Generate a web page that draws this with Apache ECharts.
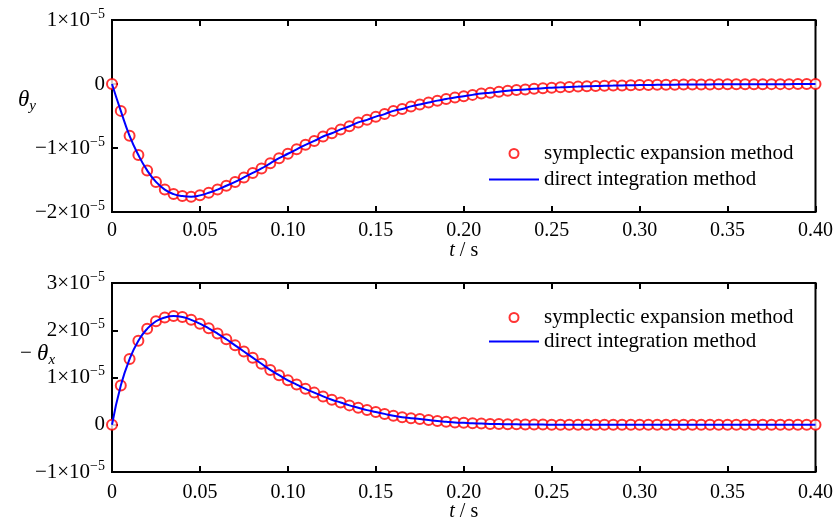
<!DOCTYPE html>
<html>
<head>
<meta charset="utf-8">
<script src="https://cdn.jsdelivr.net/npm/echarts@6/dist/echarts.min.js"></script>
<style>
  html, body { margin: 0; padding: 0; background: #fff; }
  #chart { width: 836px; height: 523px; }
</style>
</head>
<body>
<div id="chart"></div>
<script>
// sample times: 0 .. 0.40 s, every 0.005 s
const tStep = 0.005
const tCount = 81

// theta_y, in units of 1e-5 (upper plot)
const thetaY = [
  0, -0.42, -0.81, -1.11, -1.35, -1.53, -1.65, -1.72, -1.75, -1.76,
  -1.74, -1.70, -1.65, -1.59, -1.53, -1.46, -1.39, -1.32, -1.24, -1.16,
  -1.09, -1.02, -0.95, -0.89, -0.82, -0.77, -0.71, -0.66, -0.60, -0.56,
  -0.51, -0.47, -0.42, -0.39, -0.35, -0.32, -0.29, -0.26, -0.235, -0.21,
  -0.19, -0.17, -0.15, -0.135, -0.12, -0.105, -0.095, -0.085, -0.075, -0.065,
  -0.058, -0.052, -0.046, -0.041, -0.036, -0.032, -0.028, -0.025, -0.022, -0.019,
  -0.017, -0.015, -0.013, -0.011, -0.010, -0.009, -0.008, -0.007, -0.006, -0.005,
  -0.005, -0.004, -0.004, -0.003, -0.003, -0.002, -0.002, -0.002, -0.001, -0.001,
  -0.001
]

// -theta_x, in units of 1e-5 (lower plot)
const minusThetaX = [
  0, 0.83, 1.39, 1.78, 2.03, 2.19, 2.27, 2.30, 2.28, 2.22,
  2.14, 2.04, 1.93, 1.81, 1.68, 1.55, 1.42, 1.29, 1.16, 1.05,
  0.94, 0.85, 0.76, 0.68, 0.60, 0.53, 0.47, 0.41, 0.36, 0.31,
  0.27, 0.23, 0.19, 0.16, 0.14, 0.12, 0.10, 0.08, 0.065, 0.05,
  0.04, 0.03, 0.024, 0.018, 0.014, 0.01, 0.008, 0.006, 0.004, 0.003,
  0.002, 0.001, 0.001, 0, 0, 0, 0, 0, 0, 0,
  0, 0, 0, 0, 0, 0, 0, 0, 0, 0,
  0, 0, 0, 0, 0, 0, 0, 0, 0, 0,
  0
]

const xTicks = { min: 0, max: 0.4, interval: 0.05 }
const yTicksTop = { min: -2, max: 1, interval: 1 }
const yTicksBottom = { min: -1, max: 3, interval: 1 }

const nameSym = 'symplectic expansion method'
const nameDirect = 'direct integration method'

const FONT = '"Liberation Serif", "DejaVu Serif", serif'

function pairs(values) {
  const out = []
  for (let i = 0; i < tCount; i++) {
    out.push([+(i * tStep).toFixed(3), values[i]])
  }
  return out
}

function sciLabel(v) {
  if (v === 0) return '{b|0}'
  const sign = v < 0 ? '\u2212' : ''
  return '{b|' + sign + Math.abs(v) + '\u00d710}{e|\u22125}'
}

const richSci = {
  b: { fontSize: 21, fontFamily: FONT, color: '#000' },
  e: { fontSize: 14, fontFamily: FONT, color: '#000', padding: [0, 0, 12, 0] }
}

function xAxisMain(gridIndex, margin, gap) {
  return {
    type: 'value',
    gridIndex: gridIndex,
    position: 'bottom',
    min: xTicks.min,
    max: xTicks.max,
    interval: xTicks.interval,
    name: '{i|t} / s',
    nameLocation: 'middle',
    nameGap: gap,
    nameMoveOverlap: false,
    nameTextStyle: {
      fontSize: 20, fontFamily: FONT, color: '#000',
      rich: { i: { fontSize: 20, fontFamily: FONT, fontStyle: 'italic', color: '#000' } }
    },
    axisLine: { show: false, onZero: false },
    axisTick: { inside: true, length: 6, lineStyle: { color: '#000', width: 2 } },
    axisLabel: {
      margin: margin,
      fontSize: 20, fontFamily: FONT, color: '#000',
      formatter: v => (v === 0 ? '0' : v.toFixed(2))
    },
    splitLine: { show: false }
  }
}

function xAxisTop(gridIndex) {
  return {
    type: 'value',
    gridIndex: gridIndex,
    position: 'top',
    min: xTicks.min,
    max: xTicks.max,
    interval: xTicks.interval,
    axisLine: { show: false, onZero: false },
    axisTick: { inside: true, length: 6, lineStyle: { color: '#000', width: 2 } },
    axisLabel: { show: false },
    splitLine: { show: false }
  }
}

function yAxisMain(gridIndex, ticks) {
  return {
    type: 'value',
    gridIndex: gridIndex,
    min: ticks.min,
    max: ticks.max,
    interval: ticks.interval,
    axisLine: { show: false, onZero: false },
    axisTick: { inside: true, length: 6, lineStyle: { color: '#000', width: 2 } },
    axisLabel: { margin: 7, formatter: sciLabel, rich: richSci },
    splitLine: { show: false }
  }
}

function legendFor(top, gap) {
  return {
    orient: 'vertical',
    left: 488,
    top: top,
    padding: 0,
    itemGap: gap,
    itemWidth: 50,
    itemHeight: 9,
    textStyle: { fontSize: 21, fontFamily: FONT, color: '#000' },
    data: [
      { name: nameSym },
      { name: nameDirect, itemStyle: { opacity: 0 } }
    ]
  }
}

function symSeries(idx, values) {
  return {
    name: nameSym,
    type: 'scatter',
    xAxisIndex: idx,
    yAxisIndex: idx,
    data: pairs(values),
    symbol: 'emptyCircle',
    symbolSize: 10,
    clip: false,
    itemStyle: { color: '#ff0000', borderColor: '#ff0000', borderWidth: 1.5 },
    z: 3
  }
}

function lineSeries(idx, values) {
  return {
    name: nameDirect,
    type: 'line',
    xAxisIndex: idx,
    yAxisIndex: idx,
    data: pairs(values),
    smooth: true,
    symbol: 'none',
    lineStyle: { color: '#0000ff', width: 2 },
    itemStyle: { color: '#0000ff' },
    z: 4
  }
}

const chart = echarts.init(document.getElementById('chart'))
chart.setOption({
  backgroundColor: '#fff',
  animation: false,
  grid: [
    { left: 112, top: 20, width: 704, height: 192, show: true, borderColor: '#000', borderWidth: 2 },
    { left: 112, top: 283, width: 704, height: 189, show: true, borderColor: '#000', borderWidth: 2 }
  ],
  xAxis: [xAxisMain(0, 9, 29), xAxisMain(1, 11, 30), xAxisTop(0), xAxisTop(1)],
  yAxis: [yAxisMain(0, yTicksTop), yAxisMain(1, yTicksBottom)],
  legend: [legendFor(143, 5), legendFor(307, 3)],
  series: [
    symSeries(0, thetaY),
    lineSeries(0, thetaY),
    symSeries(1, minusThetaX),
    lineSeries(1, minusThetaX)
  ],
  graphic: [
    {
      type: 'text',
      left: 18,
      top: 88,
      style: {
        text: '{t|\u03b8}{s|y}',
        rich: {
          t: { fontSize: 23, fontFamily: FONT, fontStyle: 'italic', fill: '#000' },
          s: { fontSize: 15, fontFamily: FONT, fontStyle: 'italic', fill: '#000', padding: [14, 0, 0, 0] }
        }
      }
    },
    {
      type: 'text',
      left: 20,
      top: 342,
      style: {
        text: '{m|\u2212 }{t|\u03b8}{s|x}',
        rich: {
          m: { fontSize: 21, fontFamily: FONT, fill: '#000' },
          t: { fontSize: 23, fontFamily: FONT, fontStyle: 'italic', fill: '#000' },
          s: { fontSize: 15, fontFamily: FONT, fontStyle: 'italic', fill: '#000', padding: [14, 0, 0, 0] }
        }
      }
    }
  ]
})
</script>
</body>
</html>
